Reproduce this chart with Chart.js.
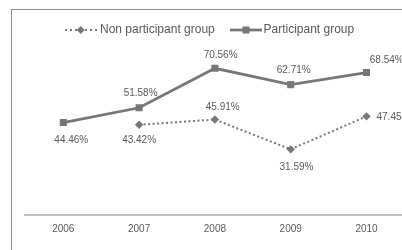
<!DOCTYPE html>
<html>
<head>
<meta charset="utf-8">
<script src="https://cdn.jsdelivr.net/npm/chart.js@4"></script>
<style>
    html, body { margin: 0; padding: 0; background: #fff; overflow: hidden; }
    #wrap { position: absolute; left: 0; top: 0; width: 420px; height: 250px; }
</style>
</head>
<body>
<div id="wrap"><canvas id="kd-chart" width="420" height="250"></canvas></div>
<script>
const YEARS = ['2006', '2007', '2008', '2009', '2010'];
const NON_PARTICIPANT = [null, 43.42, 45.91, 31.59, 47.45];
const PARTICIPANT = [44.46, 51.58, 70.56, 62.71, 68.54];
const SERIES_NAMES = ['Non participant group', 'Participant group'];

const GREY = '#777777';
const TEXT = '#595959';
const FONT = 'Liberation Sans, Arial, sans-serif';

// label placement per point: [dx, dy, align]
const LABEL_POS = [
    [null, [0, 15.7, 'center'], [7.8, -12, 'center'], [5.8, 18, 'center'], [10, 1.2, 'left']],
    [[8, 17.5, 'center'], [1.5, -14.6, 'center'], [5.7, -13.3, 'center'], [3, -14, 'center'], [3.3, -12.5, 'left']],
];

const frame = {
    id: 'frame',
    beforeDraw(chart) {
        const ctx = chart.ctx;
        ctx.save();
        ctx.strokeStyle = '#8c8c8c';
        ctx.lineWidth = 1;
        ctx.strokeRect(11.5, 9.5, 600, 600);
        ctx.restore();
    },
};

const pointLabels = {
    id: 'pointLabels',
    afterDatasetsDraw(chart) {
        const ctx = chart.ctx;
        ctx.save();
        ctx.font = '10px ' + FONT;
        ctx.fillStyle = TEXT;
        ctx.textBaseline = 'middle';
        chart.data.datasets.forEach((ds, di) => {
            chart.getDatasetMeta(di).data.forEach((pt, i) => {
                const v = ds.data[i];
                const pos = LABEL_POS[di][i];
                if (v == null || !pos) return;
                ctx.textAlign = pos[2];
                ctx.fillText(v.toFixed(2) + '%', pt.x + pos[0], pt.y + pos[1]);
            });
        });
        ctx.restore();
    },
};

const legendBar = {
    id: 'legendBar',
    afterDraw(chart) {
        const ctx = chart.ctx;
        const y = 30;
        ctx.save();
        ctx.strokeStyle = GREY;
        ctx.fillStyle = GREY;
        // non participant: dotted line + diamond
        ctx.lineWidth = 2;
        ctx.setLineDash([2, 3]);
        ctx.beginPath(); ctx.moveTo(65, y); ctx.lineTo(97, y); ctx.stroke();
        ctx.setLineDash([]);
        ctx.beginPath();
        ctx.moveTo(80.7, y - 4); ctx.lineTo(84.7, y); ctx.lineTo(80.7, y + 4); ctx.lineTo(76.7, y);
        ctx.closePath(); ctx.fill();
        // participant: solid line + square
        ctx.lineWidth = 2.75;
        ctx.beginPath(); ctx.moveTo(230, y); ctx.lineTo(262, y); ctx.stroke();
        ctx.fillRect(242.5, y - 3.5, 7, 7);

        ctx.font = '12px ' + FONT;
        ctx.fillStyle = TEXT;
        ctx.textBaseline = 'middle';
        ctx.textAlign = 'left';
        ctx.fillText(SERIES_NAMES[0], 100, y);
        ctx.fillText(SERIES_NAMES[1], 263.5, y);
        ctx.restore();
    },
};

new Chart(document.getElementById('kd-chart'), {
    type: 'line',
    data: {
        labels: YEARS,
        datasets: [
            {
                label: SERIES_NAMES[0], data: NON_PARTICIPANT,
                borderColor: GREY, backgroundColor: GREY, borderWidth: 2, borderDash: [2, 2.5],
                pointStyle: 'rectRot', pointRadius: 4.2, pointBorderWidth: 0, tension: 0,
            },
            {
                label: SERIES_NAMES[1], data: PARTICIPANT,
                borderColor: GREY, backgroundColor: GREY, borderWidth: 2.75,
                pointStyle: 'rect', pointRadius: 5, pointBorderWidth: 0, tension: 0,
            },
        ],
    },
    options: {
        responsive: false,
        animation: false,
        layout: { padding: { left: 25.4, top: 48.7, right: 15.6, bottom: 0 } },
        plugins: { legend: { display: false }, tooltip: { enabled: false } },
        scales: {
            x: {
                offset: true,
                grid: { display: false },
                border: { display: true, color: '#bfbfbf', width: 2 },
                ticks: { color: TEXT, font: { family: FONT, size: 10 }, padding: 0 },
                afterFit: (s) => { s.height = 35; },
            },
            y: { display: false, min: 0, max: 80 },
        },
    },
    plugins: [frame, pointLabels, legendBar],
});
</script>
</body>
</html>
